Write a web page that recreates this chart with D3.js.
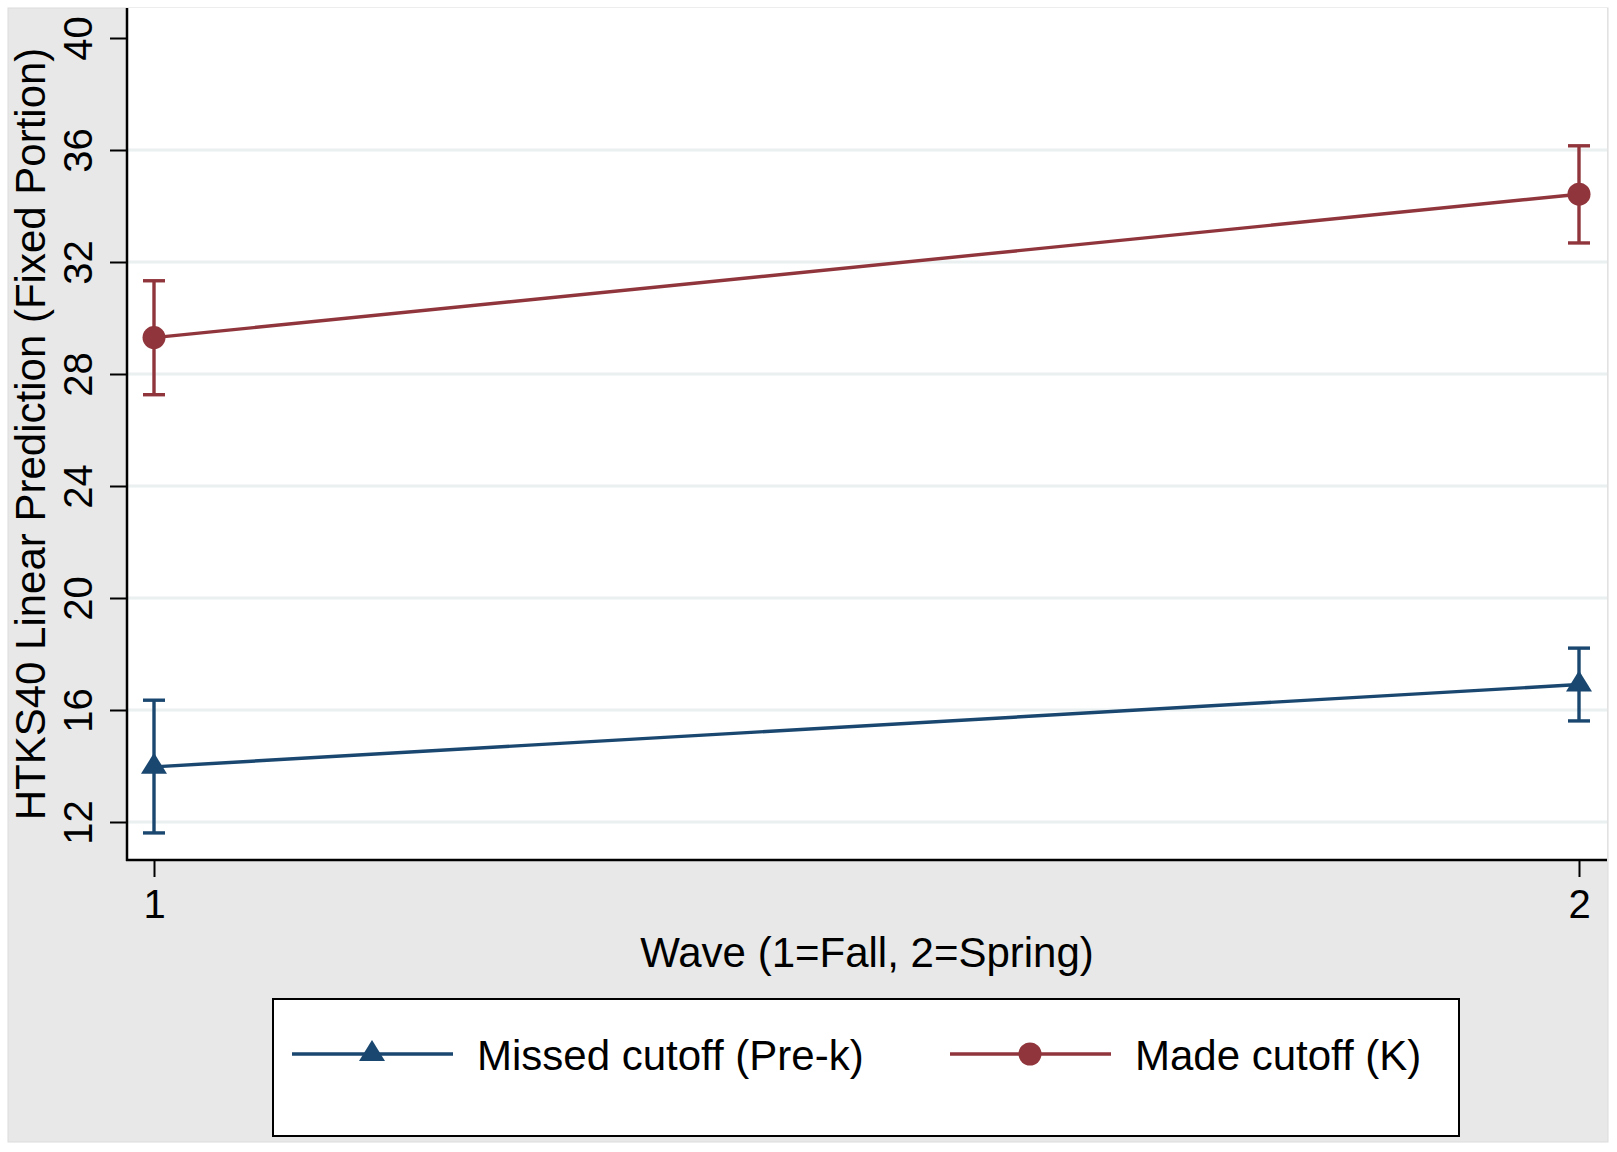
<!DOCTYPE html>
<html>
<head>
<meta charset="utf-8">
<script src="https://cdn.jsdelivr.net/npm/d3@7"></script>
<style>
  body { margin: 0; background: #fff; }
  text { font-family: "Liberation Sans", Arial, sans-serif; }
</style>
</head>
<body>
<script>
// values
var waves = [1, 2];
var waveLabels = ["1", "2"];
var yTicks = [12, 16, 20, 24, 28, 32, 36, 40];
var gridTicks = [12, 16, 20, 24, 28, 32, 36];

var missed = [13.97, 16.91];
var missedLo = [11.61, 15.61];
var missedHi = [16.35, 18.21];

var made = [29.30, 34.42];
var madeLo = [27.26, 32.68];
var madeHi = [31.33, 36.15];

var seriesNames = ["Missed cutoff (Pre-k)", "Made cutoff (K)"];

var w = 1617;
var h = 1152;
var navy = "#1a476f";
var maroon = "#90353b";

// plot region
var pLeft = 127, pRight = 1607, pTop = 8, pBottom = 860;

var svg = d3.select("body")
	.append("svg")
	.attr("width", w)
	.attr("height", h);

// graph region (gray)
svg.append("rect")
	.attr("x", 8).attr("y", 8)
	.attr("width", 1600).attr("height", 1134)
	.attr("fill", "#e8e8e8")
	.attr("stroke", "#dcdcdc")
	.attr("stroke-width", 1);

svg.append("rect")
	.attr("x", pLeft).attr("y", pTop)
	.attr("width", pRight - pLeft).attr("height", pBottom - pTop)
	.attr("fill", "#ffffff");

var x = d3.scaleLinear().domain([1, 2]).range([154, 1579]);
var y = d3.scaleLinear().domain([12, 40]).range([822, 38]);

// grid lines
svg.selectAll("line.grid")
	.data(gridTicks)
	.enter()
	.append("line")
	.attr("class", "grid")
	.attr("x1", pLeft + 1).attr("x2", pRight)
	.attr("y1", function(d) { return y(d); })
	.attr("y2", function(d) { return y(d); })
	.attr("stroke", "#eaf0f0")
	.attr("stroke-width", 3);

// y axis
var yAxis = svg.append("g")
	.attr("transform", "translate(" + pLeft + ",0)")
	.call(d3.axisLeft(y).tickValues(yTicks).tickSize(17).tickSizeOuter(0).tickPadding(0));
yAxis.select(".domain").remove();
yAxis.selectAll(".tick line").attr("stroke", "#000").attr("stroke-width", 2);
yAxis.selectAll(".tick text").remove();
yAxis.selectAll(".tick").append("text")
	.attr("transform", "translate(-35,0) rotate(-90)")
	.attr("text-anchor", "middle")
	.attr("fill", "#000")
	.attr("font-size", "40px")
	.text(function(d) { return d; });

// x axis
var xAxis = svg.append("g")
	.attr("transform", "translate(0," + pBottom + ")")
	.call(d3.axisBottom(x).tickValues(waves).tickFormat(function(d, i) { return waveLabels[i]; })
		.tickSize(17).tickSizeOuter(0).tickPadding(0));
xAxis.select(".domain").remove();
xAxis.selectAll(".tick line").attr("stroke", "#000").attr("stroke-width", 2);
xAxis.selectAll(".tick text")
	.attr("y", 58)
	.attr("dy", 0)
	.attr("fill", "#000")
	.attr("font-size", "40px");

// axis lines
svg.append("line")
	.attr("x1", pLeft).attr("x2", pLeft).attr("y1", pTop).attr("y2", pBottom + 1)
	.attr("stroke", "#000").attr("stroke-width", 2.5);
svg.append("line")
	.attr("x1", pLeft - 1).attr("x2", pRight).attr("y1", pBottom).attr("y2", pBottom)
	.attr("stroke", "#000").attr("stroke-width", 2.5);

// titles
svg.append("text")
	.attr("x", (pLeft + pRight) / 2).attr("y", 967)
	.attr("text-anchor", "middle")
	.attr("font-size", "42px")
	.text("Wave (1=Fall, 2=Spring)");

svg.append("text")
	.attr("transform", "translate(45," + ((pTop + pBottom) / 2) + ") rotate(-90)")
	.attr("text-anchor", "middle")
	.attr("font-size", "42px")
	.text("HTKS40 Linear Prediction (Fixed Portion)");

var line = d3.line()
	.x(function(d, i) { return x(waves[i]); })
	.y(function(d) { return y(d); });

function drawSeries(vals, lo, hi, color, marker) {
	var g = svg.append("g");
	// error bars
	g.selectAll("line.ci")
		.data(vals)
		.enter()
		.append("line")
		.attr("x1", function(d, i) { return x(waves[i]); })
		.attr("x2", function(d, i) { return x(waves[i]); })
		.attr("y1", function(d, i) { return y(lo[i]); })
		.attr("y2", function(d, i) { return y(hi[i]); })
		.attr("stroke", color).attr("stroke-width", 3.4);
	[lo, hi].forEach(function(arr) {
		g.selectAll(null)
			.data(arr)
			.enter()
			.append("line")
			.attr("x1", function(d, i) { return x(waves[i]) - 11; })
			.attr("x2", function(d, i) { return x(waves[i]) + 11; })
			.attr("y1", function(d) { return y(d); })
			.attr("y2", function(d) { return y(d); })
			.attr("stroke", color).attr("stroke-width", 3.4);
	});
	g.append("path")
		.datum(vals)
		.attr("d", line)
		.attr("fill", "none")
		.attr("stroke", color)
		.attr("stroke-width", 3.4);
	g.selectAll("path.mk")
		.data(vals)
		.enter()
		.append("path")
		.attr("transform", function(d, i) { return "translate(" + x(waves[i]) + "," + y(d) + ")"; })
		.attr("d", marker)
		.attr("fill", color);
}

var tri = "M0,-14 L13,7 L-13,7 Z";
var circ = d3.symbol().type(d3.symbolCircle).size(Math.PI * 11.5 * 11.5)();

drawSeries(missed, missedLo, missedHi, navy, tri);
drawSeries(made, madeLo, madeHi, maroon, circ);

// legend
svg.append("rect")
	.attr("x", 273).attr("y", 999)
	.attr("width", 1186).attr("height", 137)
	.attr("fill", "#fff")
	.attr("stroke", "#000")
	.attr("stroke-width", 2);

var legendItems = [
	{ name: seriesNames[0], color: navy, marker: tri, x0: 292 },
	{ name: seriesNames[1], color: maroon, marker: circ, x0: 950 }
];
var lg = svg.selectAll("g.leg")
	.data(legendItems)
	.enter()
	.append("g")
	.attr("transform", function(d) { return "translate(" + d.x0 + ",1054)"; });
lg.append("line")
	.attr("x1", 0).attr("x2", 161)
	.attr("stroke", function(d) { return d.color; })
	.attr("stroke-width", 3.4);
lg.append("path")
	.attr("transform", "translate(80,0)")
	.attr("d", function(d) { return d.marker; })
	.attr("fill", function(d) { return d.color; });
lg.append("text")
	.attr("x", 185).attr("y", 16)
	.attr("font-size", "42px")
	.text(function(d) { return d.name; });
</script>
</body>
</html>
